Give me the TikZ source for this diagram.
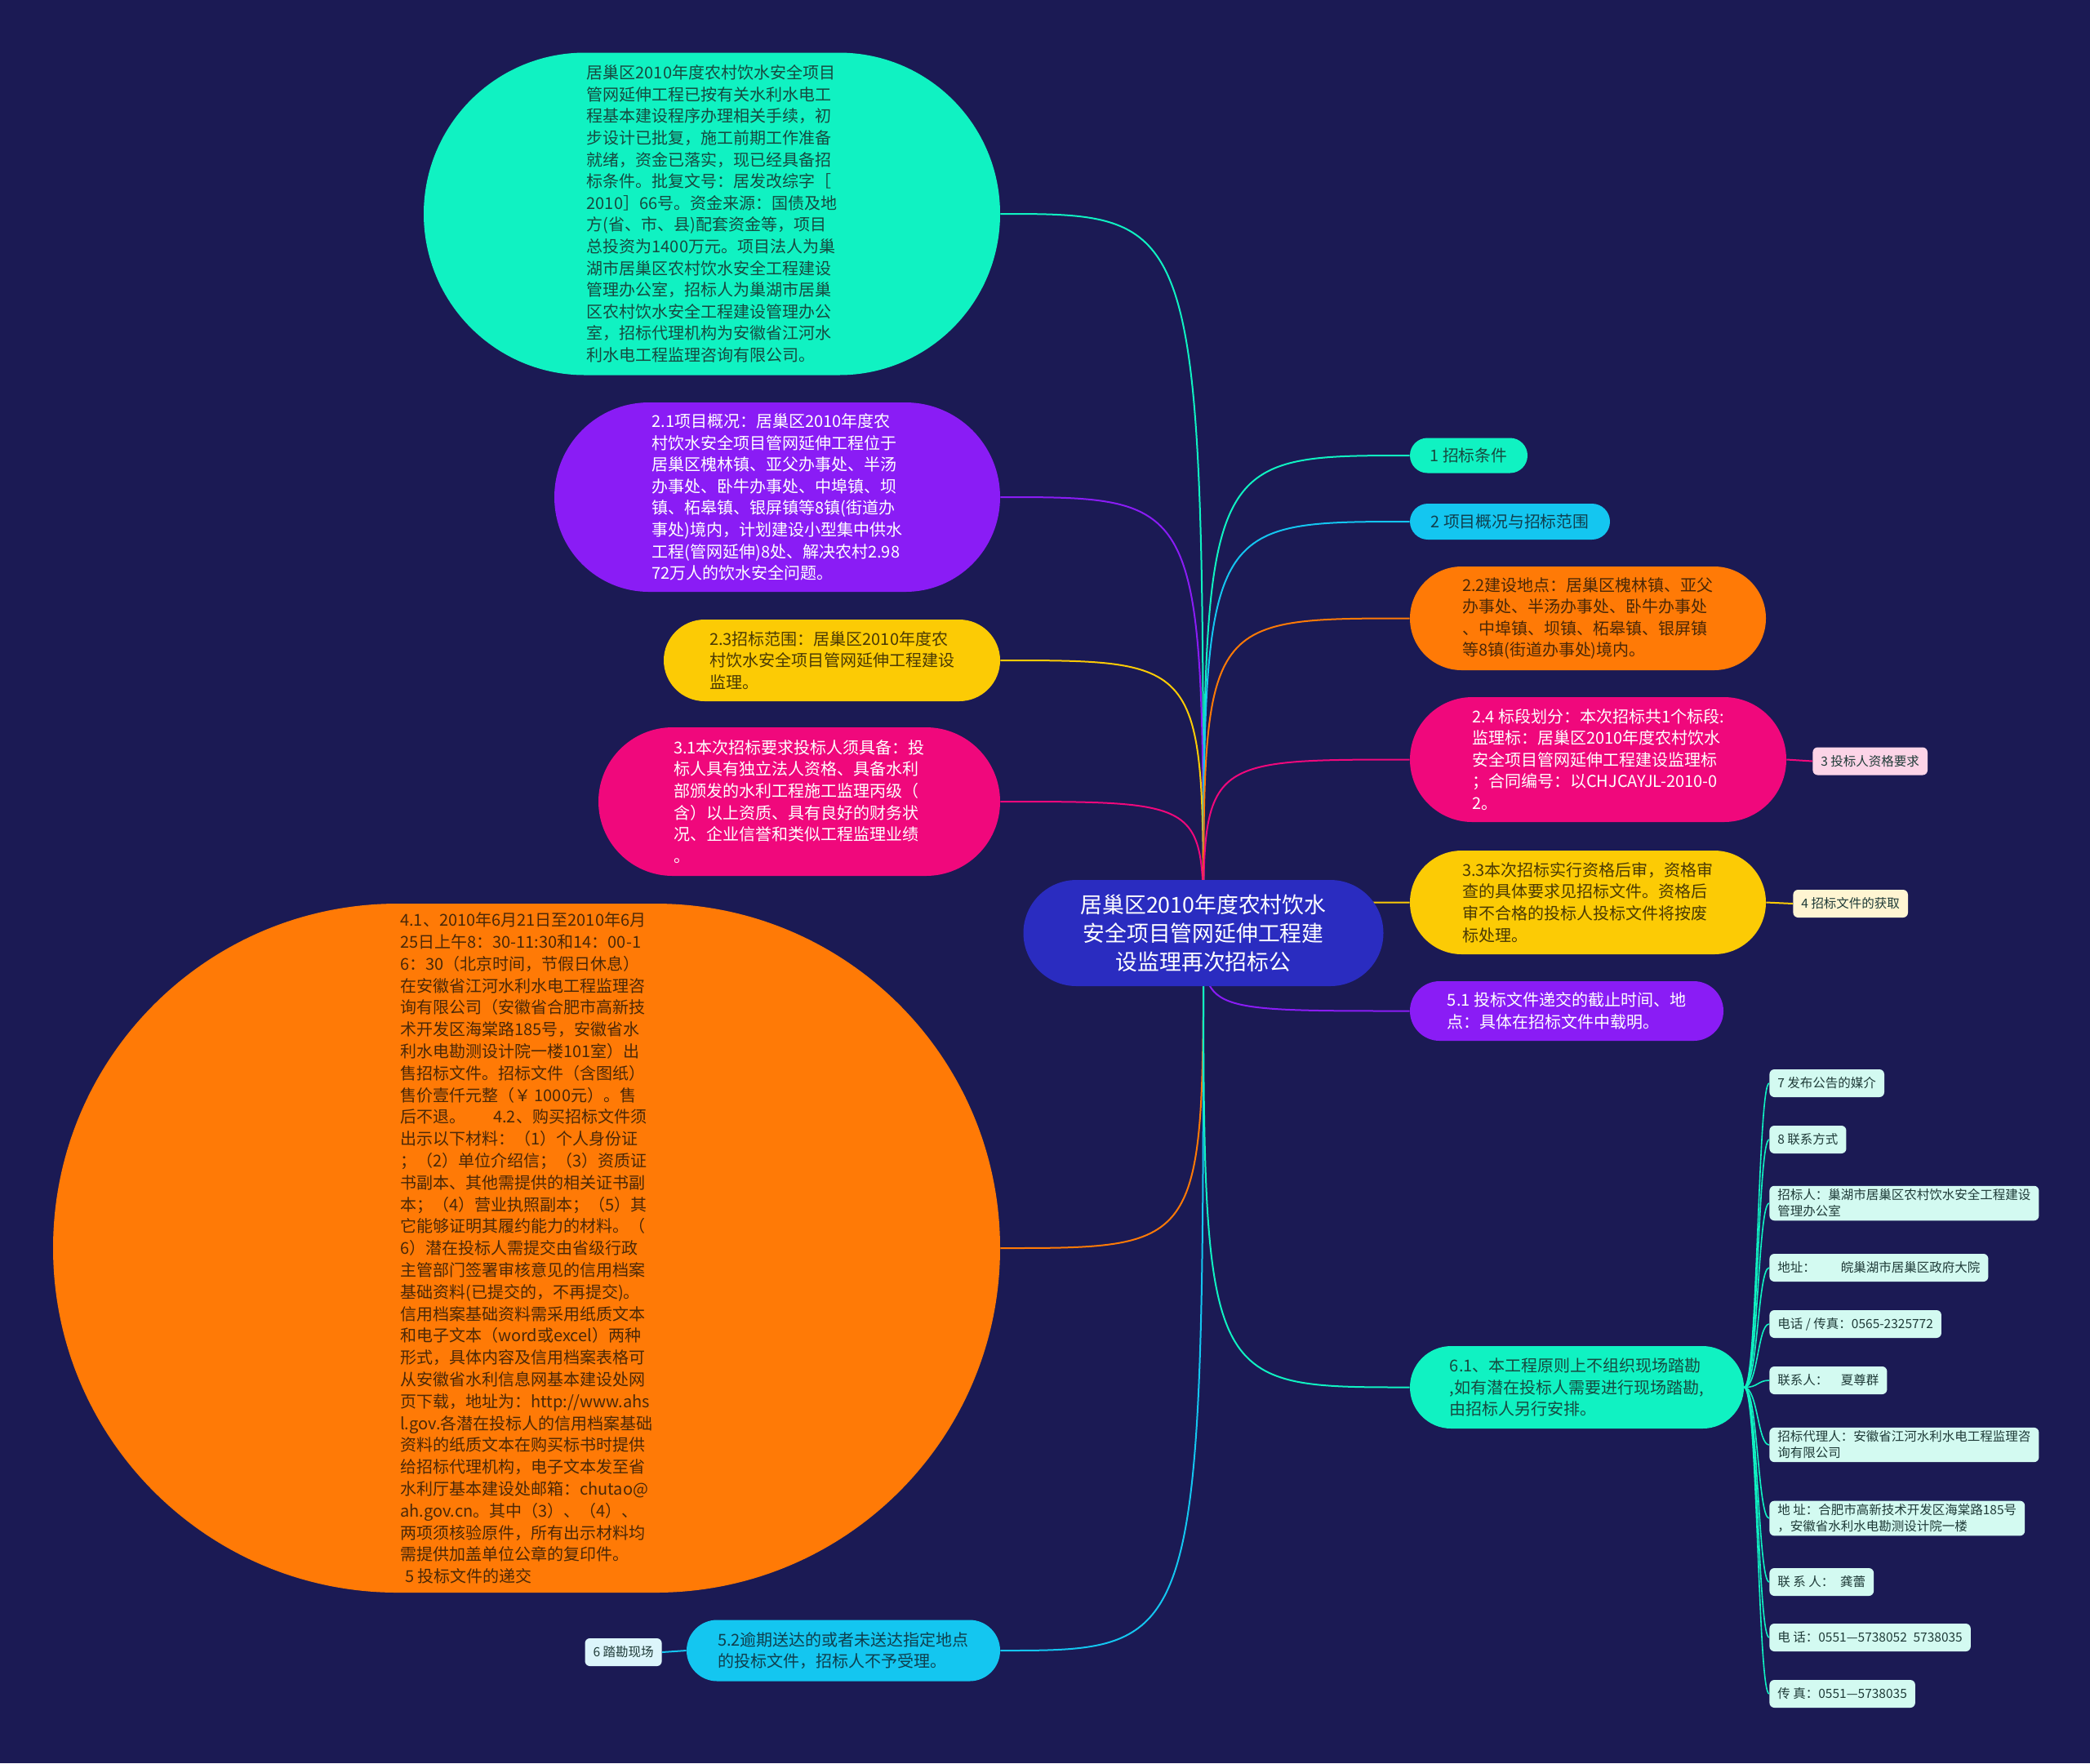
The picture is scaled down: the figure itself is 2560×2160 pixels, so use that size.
\documentclass[tikz,border=0pt]{standalone}
\usepackage{fontspec}
\setmainfont{Noto Sans CJK SC}

\definecolor{bgc}{HTML}{1B1A54}
\definecolor{rootc}{HTML}{2A2CC0}
\definecolor{tealc}{HTML}{10F2C2}
\definecolor{purc}{HTML}{8A1CF5}
\definecolor{yelc}{HTML}{FCCB05}
\definecolor{pinkc}{HTML}{F0087C}
\definecolor{orac}{HTML}{FF7A06}
\definecolor{cyac}{HTML}{14C6F0}
\definecolor{leafc}{HTML}{D3FAF1}
\definecolor{lpinkc}{HTML}{FCD4E7}
\definecolor{lyelc}{HTML}{FFF5D2}
\definecolor{lcyac}{HTML}{DCF5FB}
\definecolor{tealtxt}{HTML}{174A40}
\definecolor{yeltxt}{HTML}{4A3A05}
\definecolor{oratxt}{HTML}{4A2808}
\definecolor{cyatxt}{HTML}{0F3F4E}
\definecolor{leaftxt}{HTML}{1F3B38}

\newcommand{\rootfont}{\fontsize{13.4}{17.5}\selectfont}
\newcommand{\bodyfont}{\fontsize{10}{13.3}\selectfont}
\newcommand{\midfont}{\fontsize{9.9}{13}\selectfont}
\newcommand{\tagfont}{\fontsize{7.75}{10}\selectfont}

\tikzset{
  pill/.style={rectangle, inner sep=0pt, align=left, font=\bodyfont},
  tag/.style={rectangle, rounded corners=3pt, inner xsep=5pt, inner ysep=2pt,
    minimum height=17pt, align=left, font=\tagfont, text=leaftxt},
  link/.style={line width=1pt},
}

\begin{document}
\begin{tikzpicture}[x=0.5pt, y=-0.5pt]
\fill[bgc] (0,0) rectangle (2560,2160);
\useasboundingbox (0,0) rectangle (2560,2160);
\coordinate (rc) at (1474,1143);
\coordinate (trunk) at (2153,1700);

\node[pill, fill=tealc, text=tealtxt, minimum width=353pt, minimum height=197.5pt, rounded corners=98.7pt] (cond) at (872,262) {居巢区2010年度农村饮水安全项目\\管网延伸工程已按有关水利水电工\\程基本建设程序办理相关手续，初\\步设计已批复，施工前期工作准备\\就绪，资金已落实，现已经具备招\\标条件。批复文号：居发改综字［\\2010］66号。资金来源：国债及地\\方(省、市、县)配套资金等，项目\\总投资为1400万元。项目法人为巢\\湖市居巢区农村饮水安全工程建设\\管理办公室，招标人为巢湖市居巢\\区农村饮水安全工程建设管理办公\\室，招标代理机构为安徽省江河水\\利水电工程监理咨询有限公司。};
\node[pill, fill=purc, text=white, minimum width=273pt, minimum height=116pt, rounded corners=58pt] (gen) at (952,609) {2.1项目概况：居巢区2010年度农\\村饮水安全项目管网延伸工程位于\\居巢区槐林镇、亚父办事处、半汤\\办事处、卧牛办事处、中埠镇、坝\\镇、柘皋镇、银屏镇等8镇(街道办\\事处)境内，计划建设小型集中供水\\工程(管网延伸)8处、解决农村2.98\\72万人的饮水安全问题。};
\node[pill, fill=yelc, text=yeltxt, minimum width=206pt, minimum height=50pt, rounded corners=25pt] (range) at (1019,809) {2.3招标范围：居巢区2010年度农\\村饮水安全项目管网延伸工程建设\\监理。};
\node[pill, fill=pinkc, text=white, minimum width=246pt, minimum height=91pt, rounded corners=45.5pt] (qual) at (979,982) {3.1本次招标要求投标人须具备：投\\标人具有独立法人资格、具备水利\\部颁发的水利工程施工监理丙级（\\含）以上资质、具有良好的财务状\\况、企业信誉和类似工程监理业绩\\。};
\node[pill, fill=orac, text=oratxt, minimum width=580pt, minimum height=422pt, rounded corners=211pt, font=\fontsize{10}{13.4}\selectfont] (doc) at (645,1529) {4.1、2010年6月21日至2010年6月\\25日上午8：30-11:30和14：00-1\\6：30（北京时间，节假日休息）\\在安徽省江河水利水电工程监理咨\\询有限公司（安徽省合肥市高新技\\术开发区海棠路185号，安徽省水\\利水电勘测设计院一楼101室）出\\售招标文件。招标文件（含图纸）\\售价壹仟元整（￥ 1000元）。售\\后不退。\hspace{1.7em}4.2、购买招标文件须\\出示以下材料：（1）个人身份证\\；（2）单位介绍信；（3）资质证\\书副本、其他需提供的相关证书副\\本；（4）营业执照副本；（5）其\\它能够证明其履约能力的材料。（\\6）潜在投标人需提交由省级行政\\主管部门签署审核意见的信用档案\\基础资料(已提交的，不再提交)。\\信用档案基础资料需采用纸质文本\\和电子文本（word或excel）两种\\形式，具体内容及信用档案表格可\\从安徽省水利信息网基本建设处网\\页下载，地址为：http://www.ahs\\l.gov.各潜在投标人的信用档案基础\\资料的纸质文本在购买标书时提供\\给招标代理机构，电子文本发至省\\水利厅基本建设处邮箱：chutao@\\ah.gov.cn。其中（3）、（4）、\\两项须核验原件，所有出示材料均\\需提供加盖单位公章的复印件。\\\hspace*{0.3em}5 投标文件的递交};
\node[pill, fill=cyac, text=cyatxt, minimum width=192pt, minimum height=37.5pt, rounded corners=18.7pt] (late) at (1033,2022) {5.2逾期送达的或者未送达指定地点\\的投标文件，招标人不予受理。};
\node[tag, fill=lcyac, anchor=east] (site6) at (811,2024) {6 踏勘现场};

\node[pill, fill=tealc, text=tealtxt, minimum width=72pt, minimum height=21.5pt, rounded corners=10.7pt, font=\midfont] (t1) at (1799,558) {1 招标条件};
\node[pill, fill=cyac, text=cyatxt, minimum width=122.5pt, minimum height=22pt, rounded corners=11pt, font=\midfont] (t2) at (1849.5,639) {2 项目概况与招标范围};
\node[pill, fill=orac, text=oratxt, minimum width=218pt, minimum height=63.5pt, rounded corners=31.7pt] (site) at (1945,757.5) {2.2建设地点：居巢区槐林镇、亚父\\办事处、半汤办事处、卧牛办事处\\、中埠镇、坝镇、柘皋镇、银屏镇\\等8镇(街道办事处)境内。};
\node[pill, fill=pinkc, text=white, minimum width=230.5pt, minimum height=76.5pt, rounded corners=38.2pt] (lot) at (1957.5,930.5) {2.4 标段划分：本次招标共1个标段:\\监理标：居巢区2010年度农村饮水\\安全项目管网延伸工程建设监理标\\；合同编号：以CHJCAYJL-2010-0\\2。};
\node[tag, fill=lpinkc, anchor=west] (t3) at (2220,932.5) {3 投标人资格要求};
\node[pill, fill=yelc, text=yeltxt, minimum width=218pt, minimum height=63.5pt, rounded corners=31.7pt] (review) at (1945,1105.5) {3.3本次招标实行资格后审，资格审\\查的具体要求见招标文件。资格后\\审不合格的投标人投标文件将按废\\标处理。};
\node[tag, fill=lyelc, anchor=west] (t4) at (2196,1107) {4 招标文件的获取};
\node[pill, fill=purc, text=white, minimum width=192pt, minimum height=36.5pt, rounded corners=18.2pt] (deadline) at (1919,1238.5) {5.1 投标文件递交的截止时间、地\\点：具体在招标文件中载明。};
\node[pill, fill=tealc, text=tealtxt, minimum width=204.5pt, minimum height=50.5pt, rounded corners=25.2pt] (visit) at (1931.5,1699.5) {6.1、本工程原则上不组织现场踏勘\\,如有潜在投标人需要进行现场踏勘,\\由招标人另行安排。};

\node[tag, fill=leafc, anchor=west] (m7) at (2167,1327) {7 发布公告的媒介};
\node[tag, fill=leafc, anchor=west] (m8) at (2167,1396) {8 联系方式};
\node[tag, fill=leafc, anchor=west] (m9) at (2167,1474) {招标人：巢湖市居巢区农村饮水安全工程建设\\管理办公室};
\node[tag, fill=leafc, anchor=west] (m10) at (2167,1553) {地址：\hspace{2em}皖巢湖市居巢区政府大院};
\node[tag, fill=leafc, anchor=west] (m11) at (2167,1622) {电话 / 传真：0565-2325772};
\node[tag, fill=leafc, anchor=west] (m12) at (2167,1691) {联系人：\hspace{1em}夏尊群};
\node[tag, fill=leafc, anchor=west] (m13) at (2167,1770) {招标代理人：安徽省江河水利水电工程监理咨\\询有限公司};
\node[tag, fill=leafc, anchor=west] (m14) at (2167,1860) {地 址：合肥市高新技术开发区海棠路185号\\，安徽省水利水电勘测设计院一楼};
\node[tag, fill=leafc, anchor=west] (m15) at (2167,1938) {联 系 人：\hspace{0.5em}龚蕾};
\node[tag, fill=leafc, anchor=west] (m16) at (2167,2006) {电 话：0551—5738052\hspace{0.5em}5738035};
\node[tag, fill=leafc, anchor=west] (m17) at (2167,2075) {传 真：0551—5738035};

\foreach \n/\a/\c in {cond/east/tealc, gen/east/purc, range/east/yelc, qual/east/pinkc, doc/east/orac, late/east/cyac, t1/west/tealc, t2/west/cyac, site/west/orac, lot/west/pinkc, review/west/yelc, deadline/west/purc, visit/west/tealc}
  \draw[link, draw=\c] (rc) .. controls (rc |- \n.\a) .. (\n.\a);
\foreach \n in {m7,m8,m9,m10,m11,m12,m13,m14,m15,m16,m17}
  \draw[line width=0.8pt, tealc] (visit.east) .. controls (trunk) and (trunk |- \n.west) .. (\n.west);
\draw[link, pinkc] (lot.east) -- (t3.west);
\draw[link, yelc] (review.east) -- (t4.west);
\draw[link, cyac] (late.west) -- (site6.east);

\node[pill, fill=rootc, text=white, align=center, font=\rootfont, minimum width=220.5pt, minimum height=65pt, rounded corners=32.5pt] (root) at (rc) {居巢区2010年度农村饮水\\安全项目管网延伸工程建\\设监理再次招标公};
\end{tikzpicture}
\end{document}
